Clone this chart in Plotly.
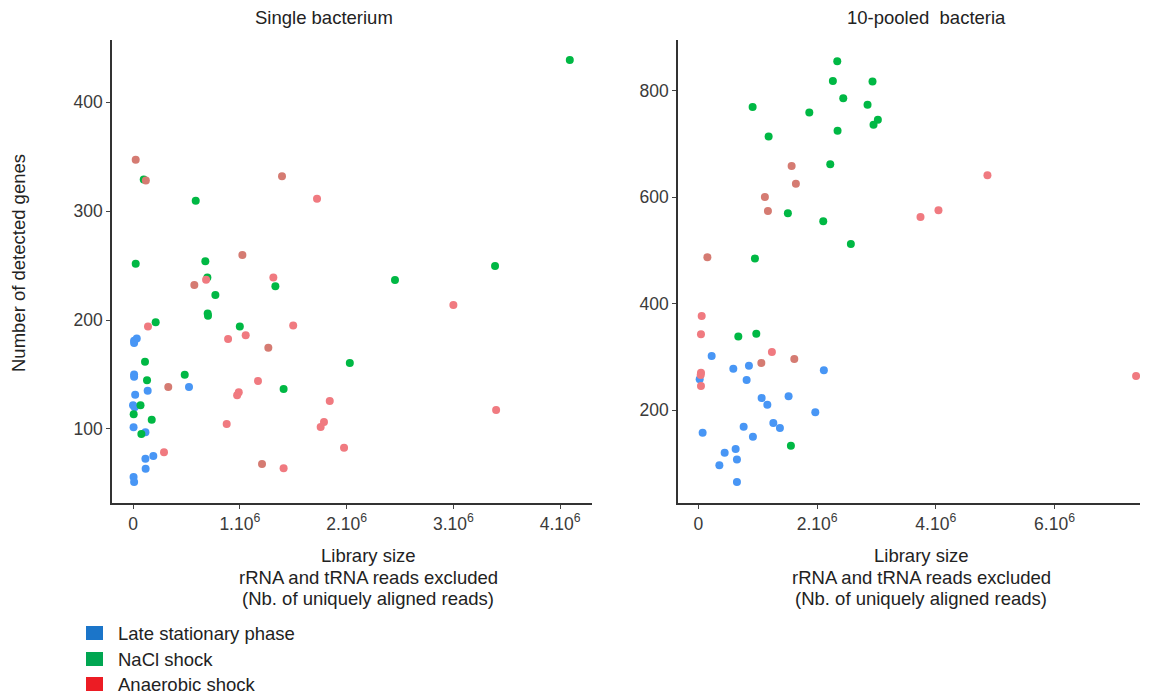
import plotly.graph_objects as go

W, H = 1151, 698

# ---------------- data (x in millions of reads) ----------------
single_lsp_x = [0.01, 0.035, 0.01, 0.01, 0.01, 0.137, 0.524, 0.02, 0.0, 0.015, 0.005, 0.116, 0.19, 0.116, 0.118, 0.005, 0.01]
single_lsp_y = [181, 183, 179, 150, 148, 135, 138.5, 131.5, 121.7, 120, 101.5, 97, 75.2, 72.8, 63.6, 56, 51.4]

single_nacl_x = [0.1, 0.587, 0.025, 0.677, 0.696, 0.771, 0.699, 0.702, 0.212, 1.0, 1.333, 0.112, 0.131, 0.484,
                 1.41, 0.07, 0.006, 0.175, 0.078, 2.453, 4.09, 3.39, 2.03]
single_nacl_y = [329, 309.5, 251.7, 254, 239, 223, 206, 204, 198, 194, 231, 161.8, 144.7, 149.8,
                 136.7, 121.7, 113.5, 108.5, 95.4, 236.7, 438.5, 249.5, 160.6]

single_anaer_x = [0.684, 1.314, 0.14, 1.5, 0.89, 1.055, 1.17, 0.99, 0.975, 0.877, 0.29, 1.41, 1.723, 3.0,
                  3.40, 1.842, 1.788, 1.757, 1.976]
single_anaer_y = [237, 239, 194, 195, 182.6, 186, 144, 133.7, 131, 104.6, 78.6, 64, 311.3, 213.8,
                  117.4, 125.7, 106.4, 101.8, 82.9]

single_anaer2_x = [0.025, 0.12, 1.395, 1.024, 0.574, 1.267, 0.33, 1.208]
single_anaer2_y = [347, 328, 332, 259.6, 232, 174.6, 138.5, 67.9]

pooled_lsp_x = [0.224, 0.589, 0.852, 2.114, 0.022, 0.813, 1.066, 1.162, 1.52, 1.97, 1.263, 1.374, 0.072,
                0.763, 0.919, 0.628, 0.443, 0.65, 0.354, 0.65]
pooled_lsp_y = [301.4, 277.5, 283.2, 274.6, 257.7, 256.3, 222.5, 210, 225.7, 195.7, 175.6, 166.2, 157.4,
                168.6, 149.8, 126.8, 119.8, 106.7, 96.2, 64.8]

pooled_nacl_x = [2.34, 2.266, 2.934, 2.441, 0.914, 2.85, 1.869, 3.024, 2.951, 2.345, 1.184, 2.222, 1.508,
                 2.104, 2.569, 0.953, 0.673, 0.976, 1.559]
pooled_nacl_y = [856, 819, 818, 786.5, 770, 774, 759.6, 746, 736.5, 725, 714.6, 662, 570,
                 555, 512.3, 485, 338.4, 343.3, 133]

pooled_anaer_x = [0.056, 0.044, 0.044, 0.039, 0.044, 1.239, 3.742, 4.045, 4.87, 7.374]
pooled_anaer_y = [377, 342.7, 270, 265.8, 245.1, 308.9, 563, 575.6, 641.3, 263.9]

pooled_anaer2_x = [1.571, 1.643, 1.121, 1.172, 0.152, 1.616, 1.061]
pooled_anaer2_y = [658.8, 625.7, 600.6, 574.3, 487.3, 295.8, 288.3]

left_xticks = [0, 1, 2, 3, 4]
right_xticks = [0, 2, 4, 6]
left_yticks = [100, 200, 300, 400]
right_yticks = [200, 400, 600, 800]

xlabel_lines = ["Library size", "rRNA and tRNA reads excluded", "(Nb. of uniquely aligned reads)"]
legend_labels = ["Late stationary phase", "NaCl shock", "Anaerobic shock"]
legend_colors = ["#1b75c9", "#00a651", "#ec1c24"]

C_BLUE = "#4896f5"
C_GREEN = "#00b844"
C_RED = "#f07a80"
C_RED2 = "#d57b72"


def mil(v):
    return [a * 1e6 for a in v]


def px(x):
    return x / W


def py(y):
    return 1 - y / H


fig = go.Figure()

series = [
    (single_lsp_x, single_lsp_y, C_BLUE, "x", "y"),
    (single_nacl_x, single_nacl_y, C_GREEN, "x", "y"),
    (single_anaer2_x, single_anaer2_y, C_RED2, "x", "y"),
    (single_anaer_x, single_anaer_y, C_RED, "x", "y"),
    (pooled_lsp_x, pooled_lsp_y, C_BLUE, "x2", "y2"),
    (pooled_nacl_x, pooled_nacl_y, C_GREEN, "x2", "y2"),
    (pooled_anaer2_x, pooled_anaer2_y, C_RED2, "x2", "y2"),
    (pooled_anaer_x, pooled_anaer_y, C_RED, "x2", "y2"),
]
for xs, ys, col, xa, ya in series:
    fig.add_trace(go.Scatter(x=mil(xs), y=ys, mode="markers", xaxis=xa, yaxis=ya,
                             marker=dict(color=col, size=8, line=dict(width=0)),
                             showlegend=False, hoverinfo="x+y"))

FAM = "Liberation Sans, Arial, sans-serif"
tickfont = dict(family=FAM, size=17.5, color="#3a3a3a")
axis_common = dict(showline=True, linecolor="#333333", linewidth=1.5, mirror=False,
                   ticks="outside", ticklen=4, tickwidth=1.2, tickcolor="#444444",
                   showgrid=False, zeroline=False, tickfont=tickfont)

y_top, y_bot = 40, 503
fig.update_layout(
    width=W, height=H, autosize=False,
    margin=dict(l=0, r=0, t=0, b=0),
    paper_bgcolor="white", plot_bgcolor="white",
    showlegend=False,
    xaxis=dict(domain=[px(112), px(592)], anchor="y", range=[-0.197e6, 4.298e6],
               tickvals=mil(left_xticks),
               ticktext=["0" if v == 0 else f"{v}.10<sup>6</sup>" for v in left_xticks],
               **axis_common),
    yaxis=dict(domain=[py(y_bot), py(y_top)], anchor="x", range=[32.1, 456.9],
               tickvals=left_yticks, **axis_common),
    xaxis2=dict(domain=[px(678), px(1140)], anchor="y2", range=[-0.343e6, 7.44e6],
                tickvals=mil(right_xticks),
                ticktext=["0" if v == 0 else f"{v}.10<sup>6</sup>" for v in right_xticks],
                **axis_common),
    yaxis2=dict(domain=[py(y_bot), py(y_top)], anchor="x2", range=[25.1, 895.9],
                tickvals=right_yticks, **axis_common),
)

font = dict(family=FAM, size=18.5, color="#222222")
ann = []
ann.append(dict(text="Single bacterium", x=px(324), y=py(18), xref="paper", yref="paper",
                showarrow=False, xanchor="center", yanchor="middle", font=font))
ann.append(dict(text="10-pooled  bacteria", x=px(926), y=py(18), xref="paper", yref="paper",
                showarrow=False, xanchor="center", yanchor="middle", font=font))
ann.append(dict(text="Number of detected genes", x=px(18), y=py(263), xref="paper", yref="paper",
                showarrow=False, textangle=-90, xanchor="center", yanchor="middle", font=font))
for cx in (368, 921):
    for line, yy in zip(xlabel_lines, (555, 577, 598)):
        ann.append(dict(text=line, x=px(cx), y=py(yy), xref="paper", yref="paper",
                        showarrow=False, xanchor="center", yanchor="middle", font=font))

shapes = []
leg_y = [633, 659, 684]
for lab, col, yy in zip(legend_labels, legend_colors, leg_y):
    shapes.append(dict(type="rect", xref="paper", yref="paper",
                       x0=px(86), x1=px(103), y0=py(yy - 7), y1=py(yy + 7),
                       fillcolor=col, line=dict(width=0)))
    ann.append(dict(text=lab, x=px(116), y=py(yy), xref="paper", yref="paper",
                    showarrow=False, xanchor="left", yanchor="middle", font=font))

fig.update_layout(annotations=ann, shapes=shapes)

fig.write_html("out.html")
